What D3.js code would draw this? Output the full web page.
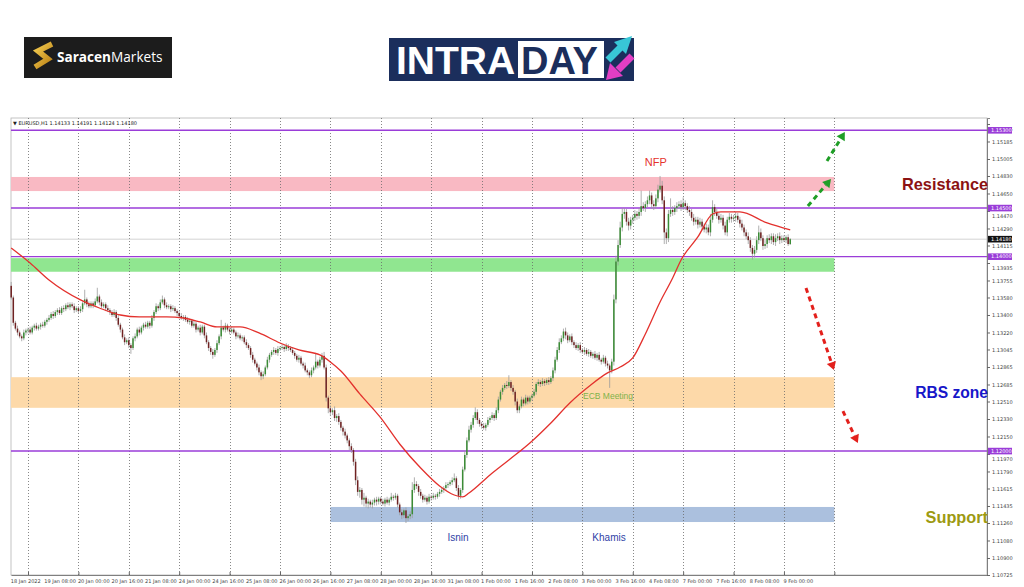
<!DOCTYPE html>
<html><head><meta charset="utf-8">
<script src="https://cdn.jsdelivr.net/npm/d3@7"></script>
<style>body{margin:0;background:#fff;}svg{display:block;}</style>
</head><body>
<svg id="c" width="1024" height="587"></svg>
<script>
// ===== DATA (EURUSD H1, prices in pips above 1.1000) =====
const symbolHeader = "EURUSD,H1  1.14133 1.14191 1.14124 1.14180";
const firstOpen = 370;
const closes = [
 358,332,326,322,318,316,322,324,
 325,322,327,329,326,328,330,329,333,335,337,341,339,343,345,342,347,346,350,348,351,349,345,347,
 344,346,352,356,351,349,352,350,354,359,353,349,351,347,345,343,340,343,337,330,325,317,312,314,
 309,306,316,318,325,322,327,330,328,332,329,337,343,349,347,353,356,350,348,349,346,347,344,342,
 339,337,338,335,333,334,329,331,325,327,322,328,319,312,306,302,299,304,311,318,327,325,329,325,
 323,325,322,318,319,316,317,312,309,306,299,294,290,286,281,277,279,286,294,299,302,304,301,305,
 306,307,305,308,306,304,301,298,294,296,290,288,283,281,278,283,286,292,288,294,298,286,255,244,
 240,242,234,236,230,224,220,216,211,205,201,189,170,158,160,150,152,146,148,145,147,150,148,151,
 148,146,150,147,150,153,152,154,145,137,134,139,131,133,135,160,166,164,158,154,150,152,148,153,
 152,154,153,156,158,160,162,165,166,168,170,172,162,154,160,181,196,211,222,227,234,240,232,228,
 226,224,227,232,234,237,234,242,253,261,265,268,267,271,265,261,251,242,246,253,249,255,251,255,
 257,261,269,271,269,272,270,273,271,275,283,294,304,312,316,323,319,314,318,312,309,306,309,304,
 302,304,300,302,298,300,296,299,294,292,296,290,288,283,292,356,395,412,430,444,446,436,432,438,
 440,444,442,446,452,450,454,458,463,454,452,460,469,473,458,425,419,444,448,446,450,452,454,451,
 455,452,448,446,440,436,438,433,436,431,428,430,425,438,451,446,442,438,440,432,425,438,441,439,
 440,442,438,434,430,425,421,417,409,403,407,417,425,419,411,413,419,417,421,415,419,421,417,419,
 417,420,413,418];
const upWick = [
 4,2,2,3,2,2,3,2,
 2,3,2,2,3,2,2,3,2,2,3,2,3,2,2,3,2,3,2,3,2,2,3,2,
 2,3,2,10,2,3,2,2,3,9,2,3,2,2,3,2,2,3,2,3,2,2,3,2,
 3,2,2,3,2,3,2,2,3,2,2,3,2,3,2,3,4,2,3,2,2,3,2,2,
 2,3,2,2,3,2,2,3,2,2,3,2,2,3,2,2,3,2,3,2,8,2,3,2,
 2,3,2,2,3,2,2,2,3,2,2,3,2,2,3,2,3,2,3,2,2,3,2,3,
 2,3,2,3,2,2,3,2,2,3,2,2,3,2,2,3,2,9,2,3,3,4,3,2,
 3,2,4,2,3,2,2,3,2,2,3,2,3,4,3,2,5,2,3,2,3,2,3,2,
 2,3,2,3,2,4,2,3,2,2,3,2,3,2,3,8,7,3,2,3,2,3,2,3,
 2,3,2,2,3,2,2,3,2,2,3,5,2,3,2,3,4,3,4,3,3,5,3,2,
 2,3,2,3,2,3,2,3,3,2,3,2,4,7,2,3,2,3,2,3,2,3,2,2,
 2,3,2,3,2,3,2,2,3,2,3,3,3,4,3,3,4,3,2,3,2,3,2,3,
 2,3,2,3,2,2,3,2,3,2,3,2,3,2,3,5,6,5,6,6,4,3,4,3,
 3,4,3,4,16,4,3,4,5,3,4,4,5,10,5,4,4,4,12,4,3,4,3,4,
 6,3,3,4,3,4,3,3,4,3,3,4,3,6,7,3,4,3,4,3,4,3,4,3,
 3,4,3,3,4,3,3,4,3,3,4,4,7,4,3,4,3,4,3,3,4,3,4,3,
 3,2,3,1];
const downWick = [
 2,3,2,3,2,3,2,3,
 3,2,2,3,2,2,3,2,2,3,2,2,3,2,3,2,2,3,2,2,3,2,3,2,
 2,2,3,2,3,2,2,3,2,2,3,2,2,3,2,3,2,2,3,2,3,2,3,2,
 3,6,2,3,2,3,2,3,2,2,3,2,3,2,3,2,2,3,2,2,3,2,2,3,
 2,2,3,2,2,3,2,2,3,2,3,2,3,2,3,3,4,2,3,2,3,2,3,2,
 3,2,2,3,2,2,3,2,3,2,3,3,2,3,3,4,3,2,2,3,2,3,2,3,
 2,2,3,2,3,2,2,3,2,3,2,3,2,3,3,2,3,2,3,2,3,2,4,5,
 4,3,3,4,3,3,4,3,3,4,3,4,5,4,6,5,7,4,5,3,4,3,4,3,
 3,2,3,2,3,2,3,2,3,3,4,3,5,3,3,4,3,3,4,3,3,2,3,2,
 3,2,3,2,3,2,3,2,3,2,3,2,3,4,3,3,2,3,2,3,3,2,4,3,
 3,2,3,2,3,2,3,2,3,2,3,2,3,2,3,3,4,3,3,2,3,2,3,2,
 3,2,3,2,3,2,3,2,3,2,3,3,2,3,2,3,4,3,2,3,3,2,3,3,
 2,3,2,3,2,3,2,3,2,3,2,3,3,18,3,4,4,4,3,4,5,4,5,4,
 4,3,4,3,4,3,4,3,4,5,4,3,4,3,4,12,6,4,3,4,3,4,3,4,
 3,4,3,4,3,4,3,4,3,4,3,4,3,4,3,4,3,4,3,4,3,4,3,4,
 3,4,3,4,3,4,3,4,4,6,4,3,4,3,4,3,4,3,4,3,4,3,4,3,
 2,3,2,1];

// moving average (red) sampled at bar indices
const maIdx = [0,9,18,33,42,52,61,74,82,90,98,109,118,128,137,147,152,157,166,176,185,195,204,211,215,218,228,237,247,257,266,276,284,290,296,302,309,315,319,327,334,338,347,360,371];
const maVal = [1.14089,1.13935,1.13760,1.13555,1.13472,1.13400,1.13380,1.13380,1.13369,1.13328,1.13277,1.13277,1.13215,1.13112,1.13040,1.12989,1.12917,1.12824,1.12588,1.12341,1.12073,1.11826,1.11641,1.11548,1.11528,1.11569,1.11754,1.11908,1.12083,1.12289,1.12495,1.12680,1.12804,1.12865,1.12958,1.13205,1.13534,1.13781,1.13966,1.14203,1.14439,1.14460,1.14460,1.14347,1.14275];

// x axis labels every 16 bars, daily grid every 24 bars
const xLabels = ["18 Jan 2022","19 Jan 08:00","20 Jan 00:00","20 Jan 16:00","21 Jan 08:00","24 Jan 00:00","24 Jan 16:00","25 Jan 08:00","26 Jan 00:00","26 Jan 16:00","27 Jan 08:00","28 Jan 00:00","28 Jan 16:00","31 Jan 08:00","1 Feb 00:00","1 Feb 16:00","2 Feb 08:00","3 Feb 00:00","3 Feb 16:00","4 Feb 08:00","7 Feb 00:00","7 Feb 16:00","8 Feb 08:00","9 Feb 00:00"];
const xLabelIdx = [0,16,32,48,64,80,96,112,128,144,160,176,192,208,224,240,256,272,288,304,320,336,352,368];
const dayGridIdx = [8,32,56,80,104,128,152,176,200,224,248,272,296,320,344,368,392];

// price axis
const yTicks = [1.15365,1.15185,1.15005,1.14830,1.14650,1.14470,1.14290,1.14115,1.13935,1.13755,1.13580,1.13400,1.13220,1.13045,1.12865,1.12685,1.12510,1.12330,1.12150,1.11970,1.11790,1.11615,1.11435,1.11260,1.11080,1.10900,1.10725];
const levels = [1.15300,1.14500,1.14000,1.12000];
const currentPrice = 1.14180;

// zones
const zoneNames = ["resistance","green","rbs","support"];
const zoneLow  = [1.14675,1.13845,1.12445,1.11270];
const zoneHigh = [1.14820,1.13985,1.12760,1.11425];
const zoneFrom = [-0.1,-0.1,-0.1,152];
const zoneTo   = [392,392,392,392];
const zoneColors = ["#f9b9c3","#90e690","#fdd9a9","#abc0de"];

// annotations
const noteText  = ["NFP","ECB Meeting","Isnin","Khamis"];
const noteIdx   = [307,272.3,212.8,284.7];
const notePrice = [1.14964,1.12556,1.11106,1.11106];
const noteColor = ["#e5322c","#7fb24a","#2f3fa6","#2f3fa6"];
const noteSize  = [11,8.5,10,10];
const noteAnchor= ["middle","start","middle","middle"];

const arrowFromIdx = [379.4,388.5,378.5,396.1];
const arrowFromP   = [1.14521,1.14984,1.13678,1.12412];
const arrowToIdx   = [390.4,397.0,391.8,403.2];
const arrowToP     = [1.14799,1.15283,1.12834,1.12083];
const arrowColor   = ["#1f9e26","#1f9e26","#e3201c","#e3201c"];

const sideLabels = ["Resistance","RBS zone","Support"];
const sidePrice  = [1.14735,1.12590,1.11300];
const sideColor  = ["#8c1212","#1717c9","#9d9a12"];
const sideSize   = [16.3,15.6,16.3];

// ===== DRAW =====
const L=11, R=987, T=118, B=575;
const svg = d3.select("#c");
const x = d3.scaleLinear().domain([-0.1, 464.7]).range([L, R]);
const y = d3.scaleLinear().domain([1.10725, 1.154267]).range([B, T]);
const toP = v => 1.1 + v/10000;

// ---- logos ----
const lg = svg.append("g");
lg.append("rect").attr("x",24).attr("y",37).attr("width",148).attr("height",41).attr("fill","#1c1c1c");
const gold = svg.append("defs").append("linearGradient").attr("id","gold").attr("x1","0").attr("y1","0").attr("x2","1").attr("y2","1");
gold.append("stop").attr("offset","0").attr("stop-color","#f6cf52");
gold.append("stop").attr("offset","1").attr("stop-color","#b77c12");
lg.append("path").attr("d","M52,44 L38,51 L48,59 L35,67").attr("fill","none").attr("stroke","url(#gold)").attr("stroke-width",5.5).attr("stroke-linejoin","miter");
const st = lg.append("text").attr("x",57).attr("y",62).attr("font-family","Open Sans, sans-serif").attr("font-size",13.6).attr("fill","#fff");
st.append("tspan").attr("font-weight","bold").text("Saracen");
st.append("tspan").text("Markets");

lg.append("rect").attr("x",389).attr("y",38).attr("width",245).attr("height",43).attr("fill","#1b2e5c");
lg.append("text").attr("x",396).attr("y",73.5).attr("font-family","Liberation Sans, Arial, sans-serif").attr("font-weight","bold").attr("font-size",39).attr("fill","#fff").text("INTRA");
lg.append("rect").attr("x",518).attr("y",41).attr("width",86).attr("height",37).attr("fill","#fff");
lg.append("text").attr("x",521).attr("y",73.5).attr("font-family","Liberation Sans, Arial, sans-serif").attr("font-weight","bold").attr("font-size",38).attr("fill","#1b2e5c").text("DAY");
lg.append("line").attr("x1",608).attr("y1",60).attr("x2",621).attr("y2",47).attr("stroke","#38c6d6").attr("stroke-width",7);
lg.append("path").attr("d","M632,36 L614,42 L626,54 Z").attr("fill","#38c6d6");
lg.append("line").attr("x1",632).attr("y1",56).attr("x2",618).attr("y2",70).attr("stroke","#e23ec4").attr("stroke-width",7);
lg.append("path").attr("d","M606,80 L610,63 L623,76 Z").attr("fill","#e23ec4");

// ---- plot frame ----
svg.append("rect").attr("x",L).attr("y",T).attr("width",R-L).attr("height",B-T).attr("fill","#fff").attr("stroke","#b5b5b5").attr("stroke-width",0.8);

// zones
svg.append("g").selectAll("rect").data(zoneNames).join("rect")
  .attr("x",(d,i)=>Math.max(L,x(zoneFrom[i])))
  .attr("width",(d,i)=>x(zoneTo[i])-Math.max(L,x(zoneFrom[i])))
  .attr("y",(d,i)=>y(zoneHigh[i]))
  .attr("height",(d,i)=>y(zoneLow[i])-y(zoneHigh[i]))
  .attr("fill",(d,i)=>zoneColors[i]);

// daily dotted grid
svg.append("g").selectAll("line").data(dayGridIdx).join("line")
  .attr("x1",d=>Math.round(x(d))+0.5).attr("x2",d=>Math.round(x(d))+0.5)
  .attr("y1",T).attr("y2",B)
  .attr("stroke","#6a6a6a").attr("stroke-width",0.8).attr("stroke-dasharray","1,2");

// current price line
svg.append("line").attr("x1",L).attr("x2",R).attr("y1",y(currentPrice)).attr("y2",y(currentPrice))
  .attr("stroke","#c8c8c8").attr("stroke-width",0.8);

// purple level lines
svg.append("g").selectAll("line").data(levels).join("line")
  .attr("x1",L).attr("x2",R).attr("y1",d=>y(d)).attr("y2",d=>y(d))
  .attr("stroke","#9a3dd8").attr("stroke-width",1.4);

// candles
const bars = closes.map((c,i)=>{
  const o = i===0 ? firstOpen : closes[i-1];
  return {i, o:toP(o), c:toP(c), h:toP(Math.max(o,c)+upWick[i]), l:toP(Math.min(o,c)-downWick[i])};
});
const cg = svg.append("g");
cg.selectAll("line").data(bars).join("line")
  .attr("x1",d=>x(d.i)).attr("x2",d=>x(d.i))
  .attr("y1",d=>y(d.h)).attr("y2",d=>y(d.l))
  .attr("stroke","#9c9c9c").attr("stroke-width",0.8);
cg.selectAll("rect").data(bars).join("rect")
  .attr("x",d=>x(d.i)-0.75).attr("width",1.5)
  .attr("y",d=>y(Math.max(d.o,d.c)))
  .attr("height",d=>Math.max(0.7,Math.abs(y(d.o)-y(d.c))))
  .attr("fill",d=>d.c>=d.o ? "#3b8c36" : "#6f2222");

// moving average
const maPts = maIdx.map((d,i)=>[d,maVal[i]]);
svg.append("path").datum(maPts)
  .attr("d",d3.line().x(d=>x(d[0])).y(d=>y(d[1])).curve(d3.curveMonotoneX))
  .attr("fill","none").attr("stroke","#e3312d").attr("stroke-width",1.3);

// header
svg.append("text").attr("x",13).attr("y",125).attr("font-family","DejaVu Sans, sans-serif").attr("font-size",5).attr("fill","#222")
  .text("\u25BC " + symbolHeader);

// y axis
const ya = svg.append("g").attr("transform",`translate(${R},0)`)
  .call(d3.axisRight(y).tickValues(yTicks).tickFormat(d3.format(".5f")).tickSize(3).tickPadding(2));
ya.select(".domain").attr("stroke","#666").attr("stroke-width",0.8);
ya.selectAll(".tick line").attr("stroke","#666");
ya.selectAll("text").attr("font-family","DejaVu Sans, sans-serif").attr("font-size",5).attr("fill","#444")
  .attr("dy",d=>{ const near = levels.some(v=>Math.abs(y(v)-y(d))<7); return near ? "1.35em" : "0.32em"; });

// level boxes on axis
const boxes = levels.map(v=>({v, fill:"#9a3dd8"})).concat([{v:currentPrice, fill:"#111"}]);
const bg = svg.append("g").selectAll("g").data(boxes).join("g").attr("transform",d=>`translate(${R+1},${y(d.v)})`);
bg.append("rect").attr("x",0).attr("y",-3.3).attr("width",24).attr("height",6.6).attr("fill",d=>d.fill);
bg.append("text").attr("x",3).attr("y",1.8).attr("font-family","DejaVu Sans, sans-serif").attr("font-size",5).attr("fill","#fff")
  .text(d=>d3.format(".5f")(d.v));

// x axis
const xa = svg.append("g").attr("transform",`translate(0,${B})`)
  .call(d3.axisBottom(x).tickValues(xLabelIdx).tickFormat((d,i)=>xLabels[i]).tickSize(0).tickPadding(4));
xa.select(".domain").attr("stroke","#666").attr("stroke-width",0.8);
xa.selectAll("text").attr("text-anchor","start").attr("dx",-1).attr("font-family","DejaVu Sans, sans-serif").attr("font-size",5).attr("fill","#444");
const xt = svg.append("g").attr("transform",`translate(0,${B})`)
  .call(d3.axisBottom(x).tickValues(dayGridIdx).tickFormat("").tickSize(-3));
xt.select(".domain").remove();
xt.selectAll(".tick line").attr("stroke","#666");

// annotations
svg.append("g").selectAll("text").data(noteText).join("text")
  .attr("x",(d,i)=>x(noteIdx[i])).attr("y",(d,i)=>y(notePrice[i]))
  .attr("dominant-baseline","middle").attr("text-anchor",(d,i)=>noteAnchor[i])
  .attr("font-family","Liberation Sans, Arial, sans-serif").attr("font-size",(d,i)=>noteSize[i])
  .attr("fill",(d,i)=>noteColor[i]).text(d=>d);

svg.append("g").selectAll("text").data(sideLabels).join("text")
  .attr("x",R+1).attr("y",(d,i)=>y(sidePrice[i]))
  .attr("dominant-baseline","middle").attr("text-anchor","end")
  .attr("font-family","Liberation Sans, Arial, sans-serif").attr("font-weight","bold").attr("font-size",(d,i)=>sideSize[i])
  .attr("fill",(d,i)=>sideColor[i]).text(d=>d);

// dashed arrows
const ag = svg.append("g");
arrowFromIdx.forEach((fi,i)=>{
  const x1=x(fi), y1=y(arrowFromP[i]), x2=x(arrowToIdx[i]), y2=y(arrowToP[i]);
  const dx=x2-x1, dy=y2-y1, len=Math.hypot(dx,dy), ux=dx/len, uy=dy/len;
  const hl=8, hw=4.8;
  const bx=x2-ux*hl, by=y2-uy*hl;
  ag.append("line").attr("x1",x1).attr("y1",y1).attr("x2",bx).attr("y2",by)
    .attr("stroke",arrowColor[i]).attr("stroke-width",3).attr("stroke-dasharray","5,4");
  ag.append("path").attr("d",`M${x2},${y2} L${bx-uy*hw},${by+ux*hw} L${bx+uy*hw},${by-ux*hw} Z`).attr("fill",arrowColor[i]);
});
</script>
</body></html>
